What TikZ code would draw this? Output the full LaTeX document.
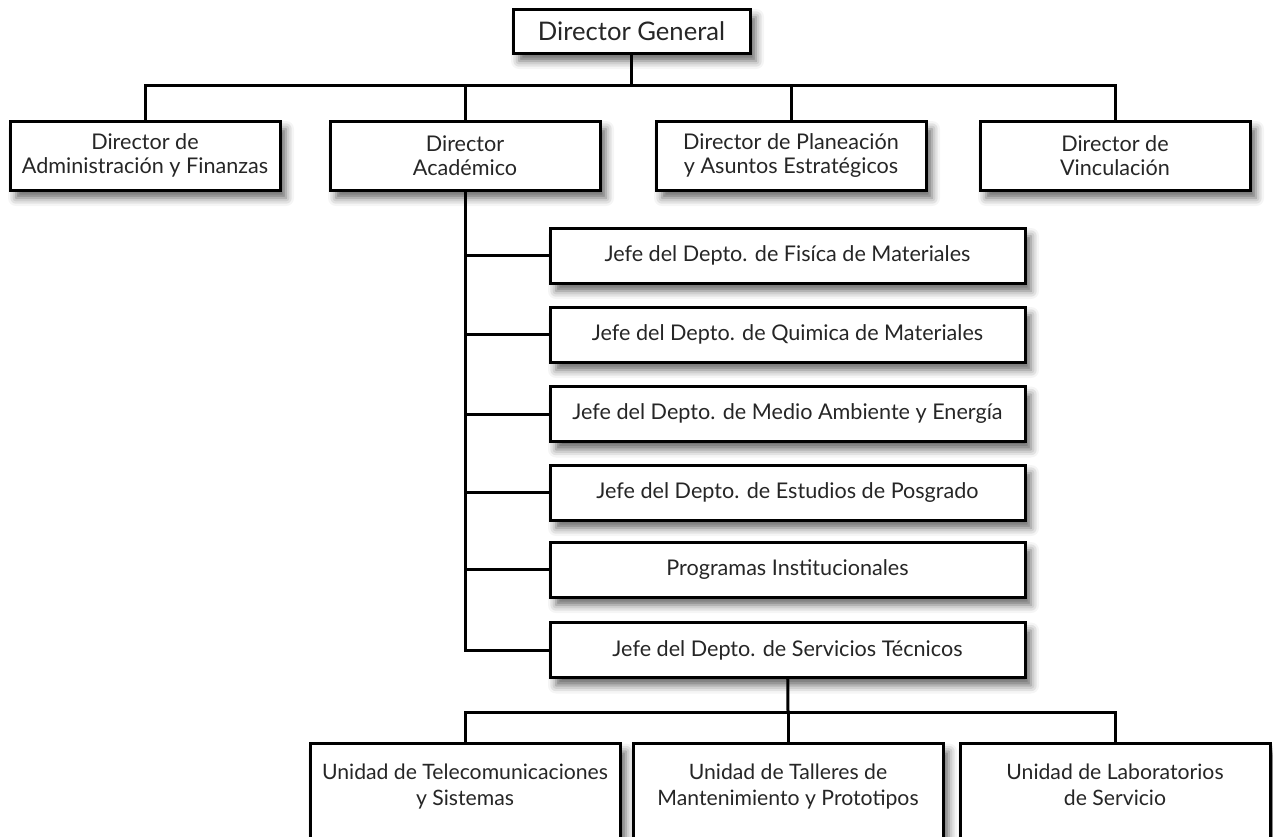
\documentclass[tikz,border=0pt]{standalone}
\usepackage{fontspec}
\setmainfont{Lato}
\usetikzlibrary{shadows.blur}

\begin{document}
\begin{tikzpicture}[x=0.5pt,y=-0.5pt,
  org_box/.style={draw,line width=1.5pt,fill=white,text=black!85,align=center,inner sep=0pt,
    blur shadow={shadow xshift=3pt,shadow yshift=-4pt,shadow blur radius=4pt,shadow opacity=60}},
  top_box/.style={org_box,minimum width=118.5pt,minimum height=22pt,font=\fontsize{12.8}{15}\selectfont},
  dir_box/.style={org_box,minimum width=135pt,minimum height=34.5pt,font=\fontsize{10.8}{12}\selectfont},
  sub_box/.style={org_box,minimum width=237.5pt,minimum height=27.5pt,font=\fontsize{10.8}{12}\selectfont},
  unit_box/.style={org_box,minimum width=155pt,anchor=north,inner ysep=10pt,text depth=60pt,font=\fontsize{10.6}{13}\selectfont},
  link/.style={line width=1.5pt}]

  \clip (0,0) rectangle (1273,836);

  \node[top_box] (dg) at (631.5,31) {Director General};

  \node[dir_box] (adm) at (145,155.5) {Director de\\Administración y Finanzas};
  \node[dir_box] (acad) at (465,155.5) {Director\\Académico};
  \node[dir_box] (plan) at (791,155.5) {Director de Planeación\\y Asuntos Estratégicos};
  \node[dir_box] (vinc) at (1115,155.5) {Director de\\Vinculación};

  \node[sub_box] (fis) at (787.5,255.5) {Jefe del Depto. de Fisíca de Materiales};
  \node[sub_box] (quim) at (787.5,334.5) {Jefe del Depto. de Quimica de Materiales};
  \node[sub_box] (medio) at (787.5,414) {Jefe del Depto. de Medio Ambiente y Energía};
  \node[sub_box] (posg) at (787.5,492.5) {Jefe del Depto. de Estudios de Posgrado};
  \node[sub_box] (prog) at (787.5,569.5) {Programas Institucionales};
  \node[sub_box] (serv) at (787.5,650) {Jefe del Depto. de Servicios Técnicos};

  \node[unit_box] (tel) at (465,742) {Unidad de Telecomunicaciones\\y Sistemas};
  \node[unit_box] (tall) at (788,742) {Unidad de Talleres de\\Mantenimiento y Prototipos};
  \node[unit_box] (lab) at (1115,742) {Unidad de Laboratorios\\de Servicio};

  \coordinate (top_bus) at (631.5,85);
  \coordinate (low_bus) at (788,712);

  \draw[link] (dg) -- (top_bus);
  \draw[link] (adm) |- (top_bus) -| (vinc);
  \draw[link] (acad) -- (acad |- top_bus);
  \draw[link] (plan) -- (plan |- top_bus);

  \draw[link] (acad) |- (serv);
  \draw[link] (acad |- fis) -- (fis);
  \draw[link] (acad |- quim) -- (quim);
  \draw[link] (acad |- medio) -- (medio);
  \draw[link] (acad |- posg) -- (posg);
  \draw[link] (acad |- prog) -- (prog);

  \draw[link] (serv) -- (low_bus);
  \draw[link] (tel) |- (low_bus) -| (lab);
  \draw[link] (tall) -- (tall |- low_bus);

\end{tikzpicture}
\end{document}
